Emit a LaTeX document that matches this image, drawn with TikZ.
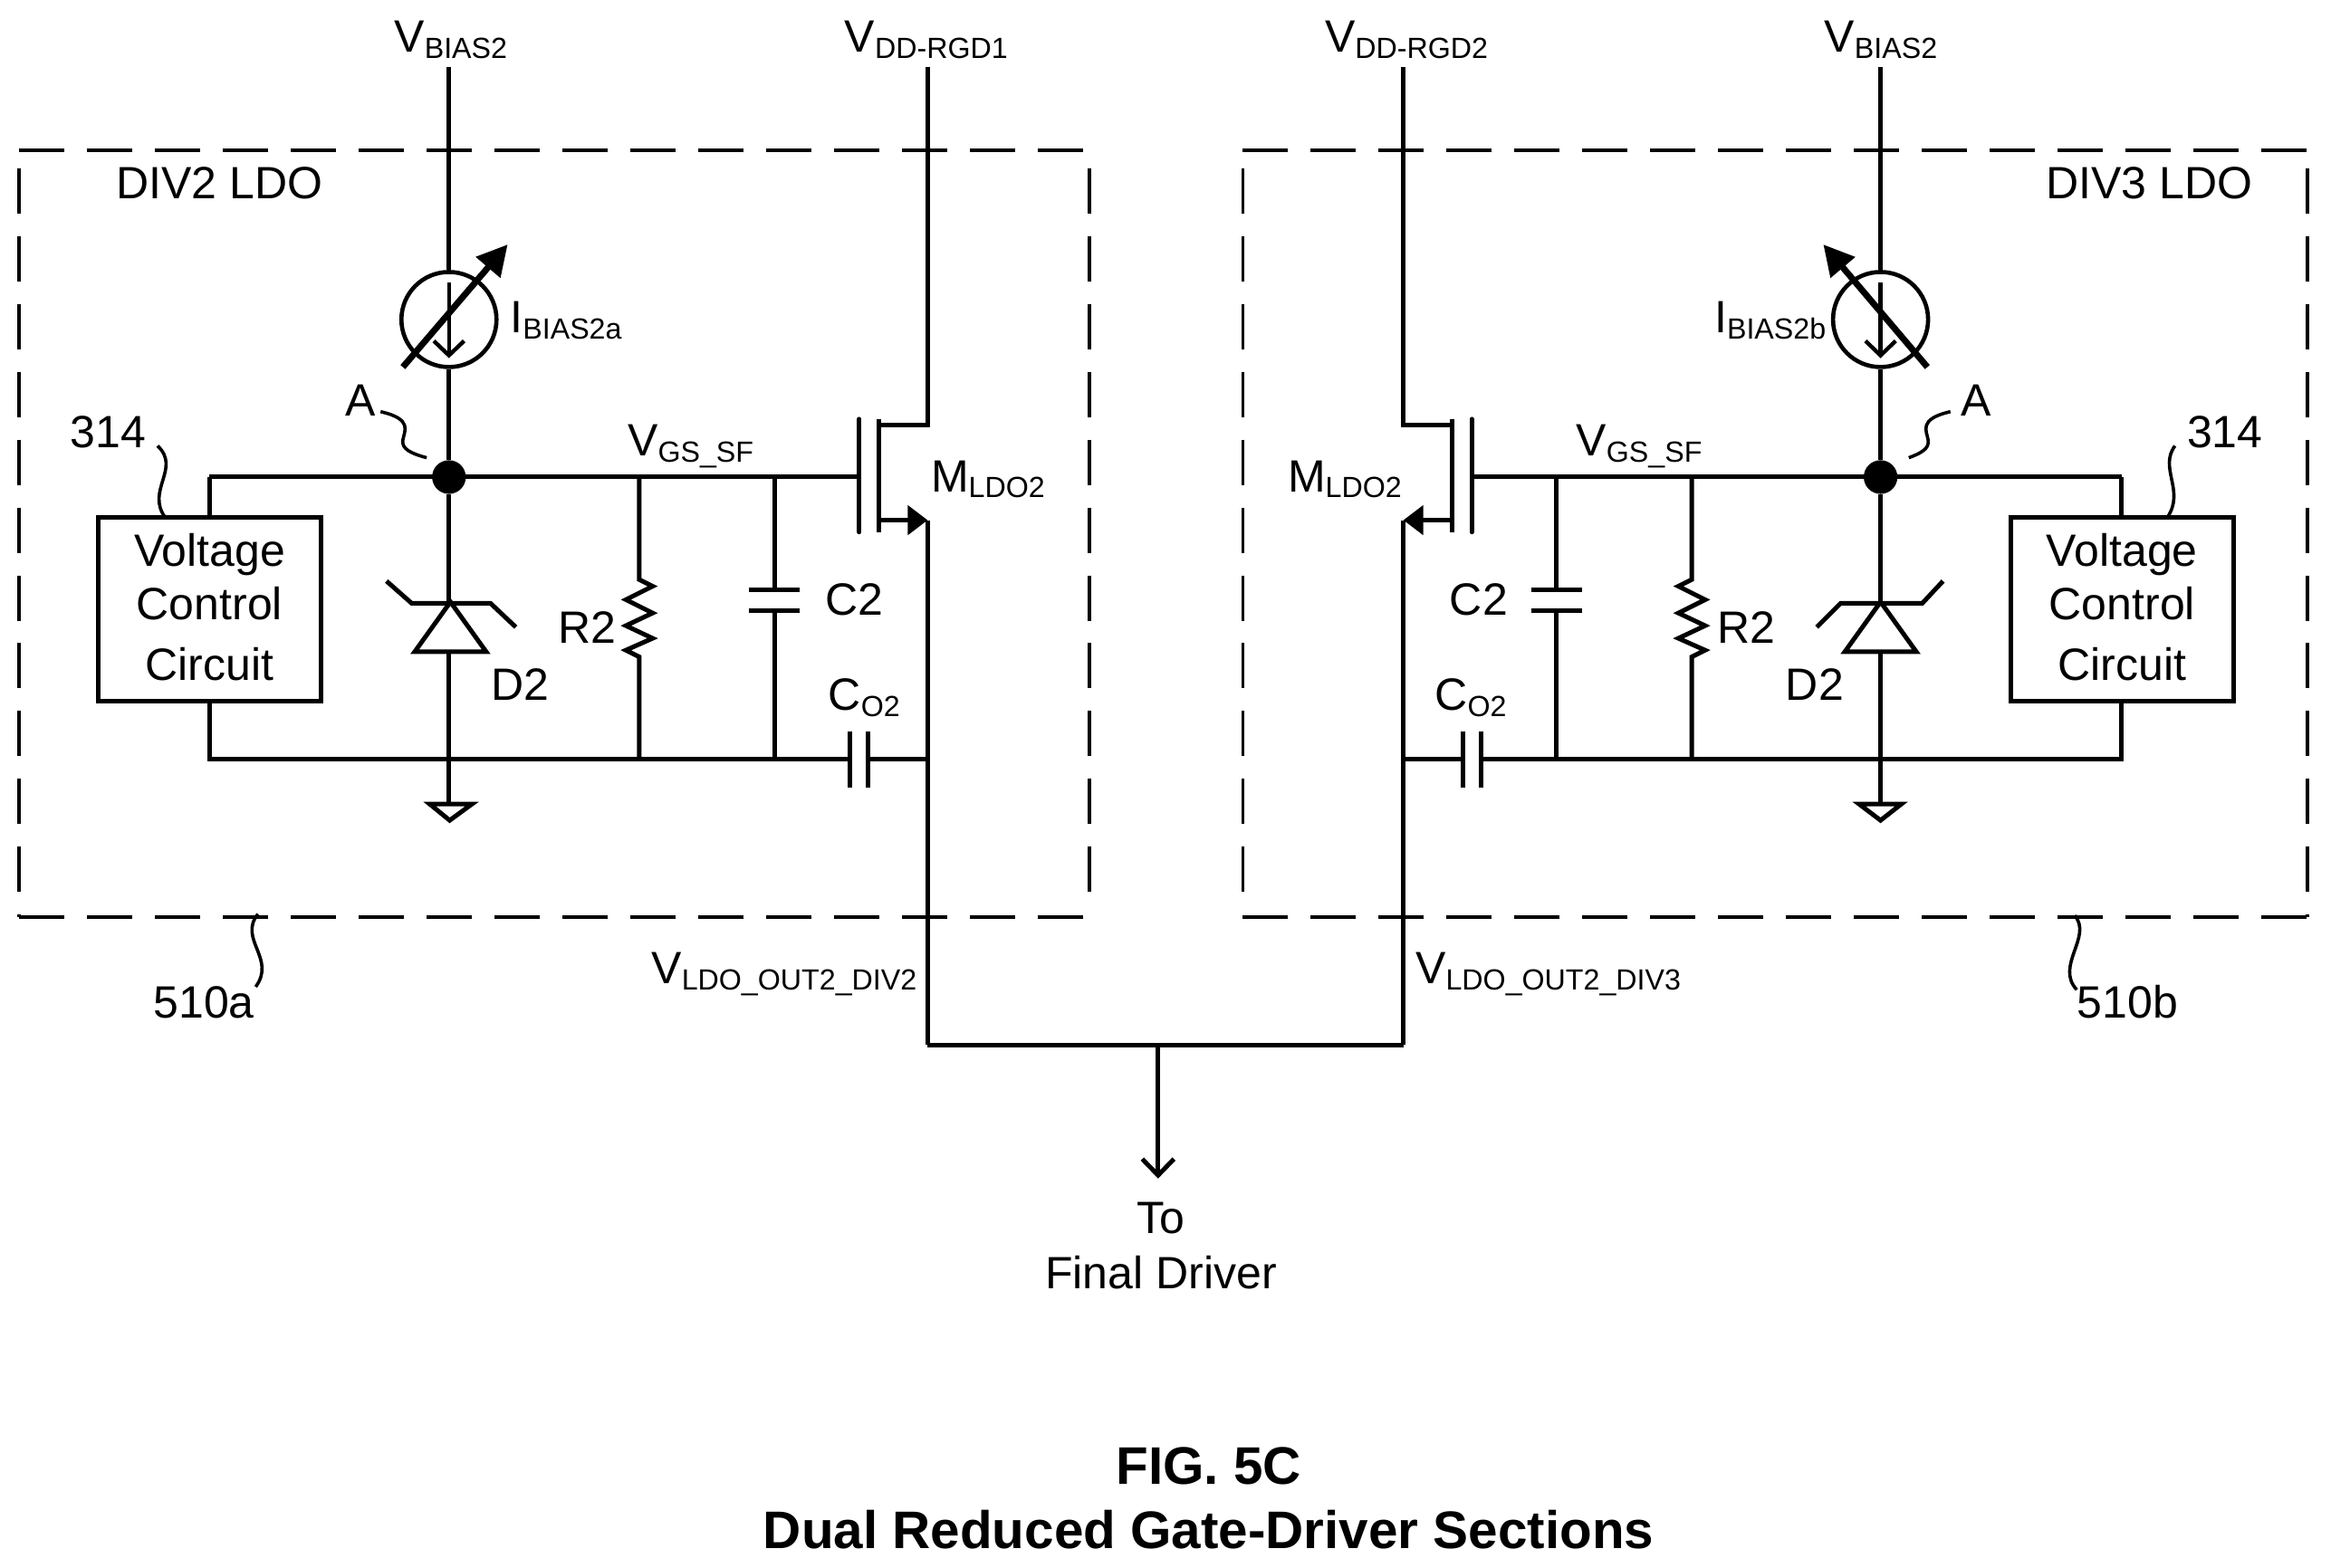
\documentclass[tikz,border=0pt]{standalone}
\usepackage{fontspec}
\setmainfont{Liberation Sans}
\usetikzlibrary{arrows.meta}
\newcommand{\lowtxt}[2]{#1\raisebox{-3.3pt}{\fontsize{16.1}{16.1}\selectfont #2}}
\begin{document}
\begin{tikzpicture}[
    x=0.8208pt, y=-0.8208pt,
    wire/.style={line width=2.5pt},
    outline/.style={dash pattern=on 25pt off 12.5pt, line width=1.85pt},
    squiggle/.style={line width=1.8pt},
    label/.style={inner sep=0pt, anchor=base west, font=\fontsize{25}{25}\selectfont},
    caption/.style={inner sep=0pt, anchor=base, font=\fontsize{29.2}{29.2}\selectfont\bfseries},
    ctrlbox/.style={draw, line width=2.5pt, minimum width=123.1pt, minimum height=101.8pt, inner sep=0pt, text depth=2.5pt, align=center, font=\fontsize{25}{31}\selectfont},
    isource/.style={draw, circle, line width=2.3pt, minimum size=52.5pt, inner sep=0pt},
    dot/.style={circle, fill=black, minimum size=18.6pt, inner sep=0pt},
    tune/.style={line width=3.5pt, -{Triangle[length=16.7pt, width=17pt]}},
    flow/.style={line width=2.2pt, -{Straight Barb[length=8pt, width=16.7pt, line width=2.2pt]}},
    source/.style={wire, -{Triangle[length=11pt, width=16pt]}},
    outarrow/.style={wire, -{Straight Barb[length=9pt, width=17.5pt, line width=2.5pt]}}
]
\useasboundingbox (0,0) rectangle (1568,1055);

% Section outlines
\draw[outline] (13,101) -- (733,101);
\draw[outline] (13,113) -- (13,617);
\draw[outline] (733,113) -- (733,606);
\draw[outline] (13,617) -- (733,617);
\draw[outline] (836,101) -- (1552,101);
\draw[outline] (836,113) -- (836,606);
\draw[outline] (1552,113) -- (1552,617);
\draw[outline] (836,617) -- (1552,617);

% Left section
\coordinate (biastopL) at (302,45);
\coordinate (drainL) at (624,286);
\coordinate (draintopL) at (624,45);
\coordinate (chdrainL) at (591,286);
\coordinate (chsourceL) at (591,350);
\coordinate (sourceL) at (624,350);
\coordinate (gateL) at (578,321);
\coordinate (rtopL) at (430,321);
\coordinate (rbotL) at (430,511);
\coordinate (ctopL) at (521,321);
\coordinate (cbotL) at (521,511);
\coordinate (cokL) at (572,511);
\coordinate (coaL) at (584,511);
\coordinate (coutL) at (624,511);
\coordinate (boxtopL) at (141,321);
\coordinate (boxbotL) at (141,511);
\coordinate (apexL) at (302,405);
\coordinate (baseL) at (302,439);
\coordinate (gndL) at (302,541);
\coordinate (outL) at (624,703);

\node[isource] (ibiasL) at (302,215) {};
\node[dot] (nodeL) at (302,321) {};
\node[ctrlbox] (ctrlL) at (141,410) {Voltage\\[-1.5pt]Control\\[2.6pt]Circuit};

\draw[wire] (biastopL) -- (ibiasL);
\draw[wire] (ibiasL) -- (nodeL);
\draw[wire] (nodeL) -- (apexL);
\draw[wire] (baseL) -- (gndL);
\draw[wire] (boxtopL) -- (gateL);
\draw[wire] (boxtopL) -- (ctrlL.north -| boxtopL);
\draw[wire] (ctrlL.south -| boxbotL) -- (boxbotL) -- (cokL);
\draw[wire] (coaL) -- (coutL);
\draw[wire] (draintopL) -- (drainL) -- (chdrainL);
\draw[source] (chsourceL) -- (sourceL);
\draw[wire] (sourceL) -- (outL);
\draw[wire] (ctopL) -- (521,397);
\draw[wire] (521,411) -- (cbotL);
\draw[wire] (rtopL) -- (430,390) -- (439,394.5) -- (421,403.5) -- (439,412.5) -- (421,421) -- (439,429.5) -- (421,437.5) -- (430,442) -- (rbotL);
\draw[tune] (271,247) -- (341.5,164.5);
\draw[flow] (302,190) -- (302,241);
\draw[wire, line cap=round] (578,282) -- (578,358);
\draw[wire] (591,282) -- (591,358);
\draw[wire] (504,397) -- (538,397);
\draw[wire] (504,411) -- (538,411);
\draw[wire] (572,492) -- (572,530);
\draw[wire] (584,492) -- (584,530);
\draw[wire, line join=miter] (279,438.5) -- (327,438.5) -- (303,405) -- cycle;
\draw[wire] (260,391) -- (277,406) -- (330,406) -- (347,422);
\draw[wire, line join=miter] (289,541) -- (317.5,541) -- (302.5,552) -- cycle;
\draw[squiggle] (256,277) .. controls (278,282) and (272,290) .. (271,296) .. controls (270,302) and (276,305) .. (287,308);
\draw[squiggle] (106,300) .. controls (122,315) and (98,330) .. (111,348);
\draw[squiggle] (173.5,615) .. controls (160,632) and (186,645) .. (172,664);

% Right section
\coordinate (biastopR) at (1265,45);
\coordinate (drainR) at (944,286);
\coordinate (draintopR) at (944,45);
\coordinate (chdrainR) at (977,286);
\coordinate (chsourceR) at (977,350);
\coordinate (sourceR) at (944,350);
\coordinate (gateR) at (990,321);
\coordinate (rtopR) at (1138,321);
\coordinate (rbotR) at (1138,511);
\coordinate (ctopR) at (1047,321);
\coordinate (cbotR) at (1047,511);
\coordinate (cokR) at (996,511);
\coordinate (coaR) at (984,511);
\coordinate (coutR) at (944,511);
\coordinate (boxtopR) at (1427,321);
\coordinate (boxbotR) at (1427,511);
\coordinate (apexR) at (1265,405);
\coordinate (baseR) at (1265,439);
\coordinate (gndR) at (1265,541);
\coordinate (outR) at (944,703);

\node[isource] (ibiasR) at (1265,215) {};
\node[dot] (nodeR) at (1265,321) {};
\node[ctrlbox] (ctrlR) at (1427.5,410) {Voltage\\[-1.5pt]Control\\[2.6pt]Circuit};

\draw[wire] (biastopR) -- (ibiasR);
\draw[wire] (ibiasR) -- (nodeR);
\draw[wire] (nodeR) -- (apexR);
\draw[wire] (baseR) -- (gndR);
\draw[wire] (boxtopR) -- (gateR);
\draw[wire] (boxtopR) -- (ctrlR.north -| boxtopR);
\draw[wire] (ctrlR.south -| boxbotR) -- (boxbotR) -- (cokR);
\draw[wire] (coaR) -- (coutR);
\draw[wire] (draintopR) -- (drainR) -- (chdrainR);
\draw[source] (chsourceR) -- (sourceR);
\draw[wire] (sourceR) -- (outR);
\draw[wire] (ctopR) -- (1047,397);
\draw[wire] (1047,411) -- (cbotR);
\draw[wire] (rtopR) -- (1138,390) -- (1129,394.5) -- (1147,403.5) -- (1129,412.5) -- (1147,421) -- (1129,429.5) -- (1147,437.5) -- (1138,442) -- (rbotR);
\draw[tune] (1296.5,247) -- (1226.5,164.5);
\draw[flow] (1265,190) -- (1265,241);
\draw[wire, line cap=round] (990,282) -- (990,358);
\draw[wire] (977,282) -- (977,358);
\draw[wire] (1030,397) -- (1064,397);
\draw[wire] (1030,411) -- (1064,411);
\draw[wire] (996,492) -- (996,530);
\draw[wire] (984,492) -- (984,530);
\draw[wire, line join=miter] (1241,438.5) -- (1289,438.5) -- (1265,405) -- cycle;
\draw[wire] (1307,391) -- (1293,406) -- (1238,406) -- (1222,422);
\draw[wire, line join=miter] (1250.5,541) -- (1279,541) -- (1265,552) -- cycle;
\draw[squiggle] (1312,277) .. controls (1290,282) and (1296,290) .. (1297,296) .. controls (1298,302) and (1292,305) .. (1284,308);
\draw[squiggle] (1463,300) .. controls (1452,315) and (1470,330) .. (1458,348);
\draw[squiggle] (1395.5,616) .. controls (1408,630) and (1382,650) .. (1397,666);

% Output
\coordinate (outM) at (779,703);
\coordinate (outend) at (779,793);
\draw[wire] (outL) -- (outR);
\draw[outarrow] (outM) -- (outend);

% Labels
\node[label] (vbiasL) at (265,35) {\lowtxt{V}{BIAS2}};
\node[label] (vddL) at (568,35) {\lowtxt{V}{DD-RGD1}};
\node[label] (vddR) at (891,35) {\lowtxt{V}{DD-RGD2}};
\node[label] (vbiasR) at (1227,35) {\lowtxt{V}{BIAS2}};
\node[label] (divL) at (78,134) {DIV2 LDO};
\node[label] (divR) at (1376,134) {DIV3 LDO};
\node[label] (ibL) at (343,224) {\lowtxt{I}{BIAS2a}};
\node[label] (ibR) at (1153,224) {\lowtxt{I}{BIAS2b}};
\node[label] (aL) at (232,280) {A};
\node[label] (aR) at (1319,280) {A};
\node[label] (nL) at (47,301) {314};
\node[label] (nR) at (1471,301) {314};
\node[label] (vgsL) at (422,307) {\lowtxt{V}{GS\_SF}};
\node[label] (vgsR) at (1060,307) {\lowtxt{V}{GS\_SF}};
\node[label] (mL) at (626,331) {\lowtxt{M}{LDO2}};
\node[label] (mR) at (866,331) {\lowtxt{M}{LDO2}};
\node[label] (r2L) at (375,433) {R2};
\node[label] (r2R) at (1155,433) {R2};
\node[label] (c2L) at (555,414) {C2};
\node[label] (c2R) at (975,414) {C2};
\node[label] (d2L) at (330,471) {D2};
\node[label] (d2R) at (1201,471) {D2};
\node[label] (coL) at (557,478) {\lowtxt{C}{O2}};
\node[label] (coR) at (965,478) {\lowtxt{C}{O2}};
\node[label] (voL) at (438,662) {\lowtxt{V}{LDO\_OUT2\_DIV2}};
\node[label] (voR) at (952,662) {\lowtxt{V}{LDO\_OUT2\_DIV3}};
\node[label] (ref510a) at (103,685) {510a};
\node[label] (ref510b) at (1397,685) {510b};
\node[label, anchor=center, align=center, font=\fontsize{25}{30.5}\selectfont] (finaldrv) at (781,838) {To\\Final Driver};

% Caption
\node[caption] (figno) at (813,999) {FIG. 5C};
\node[caption] (figtitle) at (813,1042) {Dual Reduced Gate-Driver Sections};

\end{tikzpicture}
\end{document}
